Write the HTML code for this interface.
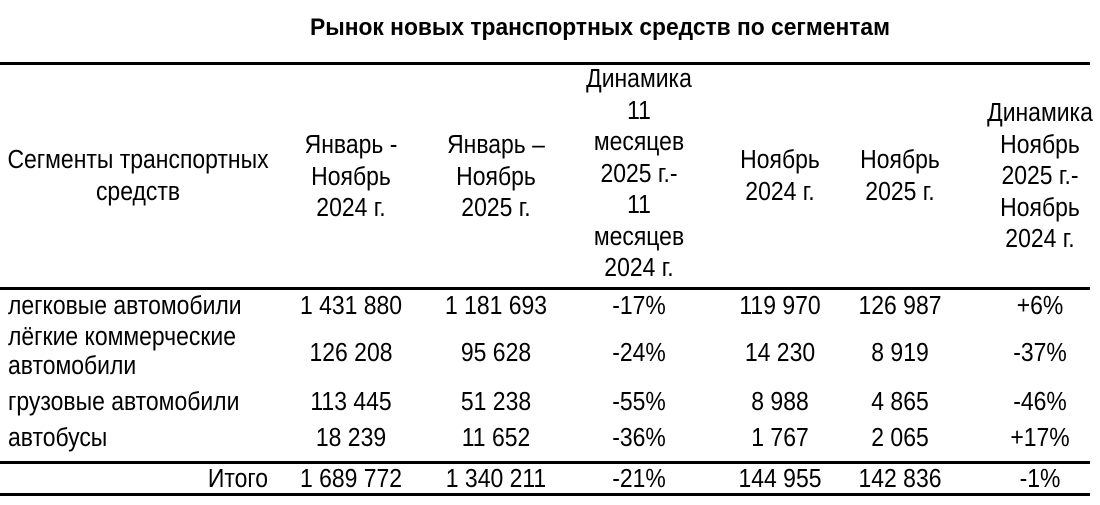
<!DOCTYPE html>
<html><head><meta charset="utf-8"><style>
body{margin:0;width:1100px;height:505px;background:#fff;position:relative;overflow:hidden;font-family:"Liberation Sans",Arial,sans-serif;color:#000}
.a{position:absolute;font-size:25.5px;line-height:31.5px;white-space:nowrap;transform:scaleX(.9);transform-origin:left center}
.c{text-align:center;transform:translateX(-50%) scaleX(.9);transform-origin:center center}
.r{text-align:right;transform:translateX(-100%) scaleX(.9);transform-origin:right center}
.l{position:absolute;left:0;width:1090px;height:3px;background:#000}
</style></head><body>
<div class="a c" style="left:600px;top:12px;font-weight:bold;font-size:24px;transform:translateX(-50%) scaleX(.95)">Рынок новых транспортных средств по сегментам</div>
<div class="l" style="top:62px"></div>
<div class="l" style="top:287px"></div>
<div class="l" style="top:461px"></div>
<div class="l" style="top:493px"></div>
<div class="a c" style="left:138px;top:145px">Сегменты транспортных<br>средств</div>
<div class="a c" style="left:351px;top:130px">Январь -<br>Ноябрь<br>2024 г.</div>
<div class="a c" style="left:496px;top:130px">Январь –<br>Ноябрь<br>2025 г.</div>
<div class="a c" style="left:639px;top:64px">Динамика<br>11<br>месяцев<br>2025 г.-<br>11<br>месяцев<br>2024 г.</div>
<div class="a c" style="left:780px;top:145px">Ноябрь<br>2024 г.</div>
<div class="a c" style="left:900px;top:145px">Ноябрь<br>2025 г.</div>
<div class="a c" style="left:1040px;top:98px">Динамика<br>Ноябрь<br>2025 г.-<br>Ноябрь<br>2024 г.</div>

<div class="a" style="left:8px;top:291px">легковые автомобили</div>
<div class="a" style="left:8px;top:323px;line-height:29px">лёгкие коммерческие<br>автомобили</div>
<div class="a" style="left:8px;top:387px">грузовые автомобили</div>
<div class="a" style="left:8px;top:423px">автобусы</div>
<div class="a r" style="left:268px;top:464px">Итого</div>

<div class="a c" style="left:351px;top:291px">1 431 880</div>
<div class="a c" style="left:496px;top:291px">1 181 693</div>
<div class="a c" style="left:639px;top:291px">-17%</div>
<div class="a c" style="left:780px;top:291px">119 970</div>
<div class="a c" style="left:900px;top:291px">126 987</div>
<div class="a c" style="left:1040px;top:291px">+6%</div>

<div class="a c" style="left:351px;top:338px">126 208</div>
<div class="a c" style="left:496px;top:338px">95 628</div>
<div class="a c" style="left:639px;top:338px">-24%</div>
<div class="a c" style="left:780px;top:338px">14 230</div>
<div class="a c" style="left:900px;top:338px">8 919</div>
<div class="a c" style="left:1040px;top:338px">-37%</div>

<div class="a c" style="left:351px;top:387px">113 445</div>
<div class="a c" style="left:496px;top:387px">51 238</div>
<div class="a c" style="left:639px;top:387px">-55%</div>
<div class="a c" style="left:780px;top:387px">8 988</div>
<div class="a c" style="left:900px;top:387px">4 865</div>
<div class="a c" style="left:1040px;top:387px">-46%</div>

<div class="a c" style="left:351px;top:423px">18 239</div>
<div class="a c" style="left:496px;top:423px">11 652</div>
<div class="a c" style="left:639px;top:423px">-36%</div>
<div class="a c" style="left:780px;top:423px">1 767</div>
<div class="a c" style="left:900px;top:423px">2 065</div>
<div class="a c" style="left:1040px;top:423px">+17%</div>

<div class="a c" style="left:351px;top:464px">1 689 772</div>
<div class="a c" style="left:496px;top:464px">1 340 211</div>
<div class="a c" style="left:639px;top:464px">-21%</div>
<div class="a c" style="left:780px;top:464px">144 955</div>
<div class="a c" style="left:900px;top:464px">142 836</div>
<div class="a c" style="left:1040px;top:464px">-1%</div>
</body></html>
